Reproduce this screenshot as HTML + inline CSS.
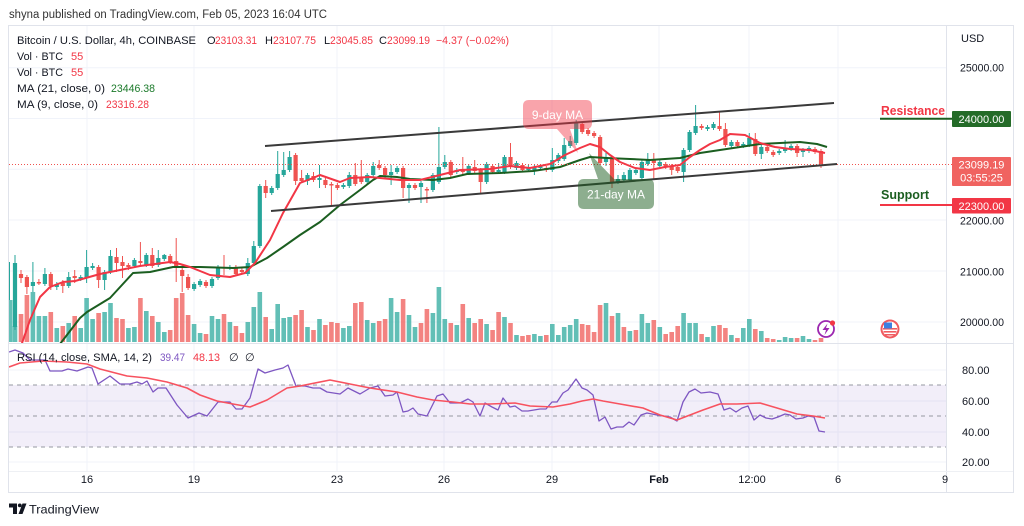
<!DOCTYPE html>
<html><head><meta charset="utf-8">
<style>
html,body{margin:0;padding:0;background:#fff;}
svg{display:block;font-family:"Liberation Sans",sans-serif;}
</style></head>
<body>
<svg width="1024" height="526" viewBox="0 0 1024 526" xmlns="http://www.w3.org/2000/svg">
<rect width="1024" height="526" fill="#fff"/>
<text x="9" y="18" font-size="11.5" fill="#333" textLength="318" lengthAdjust="spacingAndGlyphs">shyna published on TradingView.com, Feb 05, 2023 16:04 UTC</text>

<g stroke="#f0f3fa" stroke-width="1">
  <line x1="9" y1="67.7" x2="946" y2="67.7"/>
  <line x1="9" y1="118.5" x2="946" y2="118.5"/>
  <line x1="9" y1="169.3" x2="946" y2="169.3"/>
  <line x1="9" y1="220" x2="946" y2="220"/>
  <line x1="9" y1="271" x2="946" y2="271"/>
  <line x1="9" y1="322" x2="946" y2="322"/>
  <line x1="9" y1="370" x2="946" y2="370"/>
  <line x1="9" y1="401" x2="946" y2="401"/>
  <line x1="9" y1="432" x2="946" y2="432"/>
  <line x1="9" y1="462" x2="946" y2="462"/>
  <line x1="87" y1="26" x2="87" y2="471"/>
  <line x1="194" y1="26" x2="194" y2="471"/>
  <line x1="337" y1="26" x2="337" y2="471"/>
  <line x1="444" y1="26" x2="444" y2="471"/>
  <line x1="552" y1="26" x2="552" y2="471"/>
  <line x1="659" y1="26" x2="659" y2="471"/>
  <line x1="749" y1="26" x2="749" y2="471"/>
  <line x1="838" y1="26" x2="838" y2="471"/>
</g>

<rect x="9" y="385" width="937" height="62" fill="rgba(126,87,194,0.1)"/>
<g stroke="#9598a1" stroke-width="1" stroke-dasharray="4 4">
  <line x1="9" y1="385" x2="946" y2="385"/>
  <line x1="9" y1="416" x2="946" y2="416"/>
  <line x1="9" y1="447" x2="946" y2="447"/>
</g>

<rect x="8.5" y="25.5" width="1005" height="467" fill="none" stroke="#e0e3eb"/>
<line x1="946.5" y1="26" x2="946.5" y2="492" stroke="#e0e3eb"/>
<line x1="9" y1="343.5" x2="1013" y2="343.5" stroke="#e0e3eb"/>
<line x1="9" y1="471.5" x2="1013" y2="471.5" stroke="#eef0f4"/>

<defs>
  <clipPath id="mainclip"><rect x="9" y="26" width="937" height="317"/></clipPath>
  <clipPath id="rsiclip"><rect x="9" y="344" width="937" height="127"/></clipPath>
</defs>

<!-- volume -->
<g clip-path="url(#mainclip)">
<path fill="rgba(38,166,154,0.72)" d="M8.5 300h4v42h-4z M12.7 326h4.6V342h-4.6z M30.6 292h4.6V342h-4.6z M36.6 316h4.6V342h-4.6z M42.6 316h4.6V342h-4.6z M54.5 328h4.6V342h-4.6z M66.4 323h4.6V342h-4.6z M78.4 328h4.6V342h-4.6z M84.3 298h4.6V342h-4.6z M90.3 319h4.6V342h-4.6z M102.3 312h4.6V342h-4.6z M108.2 303h4.6V342h-4.6z M126.1 328h4.6V342h-4.6z M132.1 327h4.6V342h-4.6z M144 311h4.6V342h-4.6z M156 322h4.6V342h-4.6z M162 332h4.6V342h-4.6z M191.8 324h4.6V342h-4.6z M197.8 333h4.6V342h-4.6z M209.7 316h4.6V342h-4.6z M215.7 319h4.6V342h-4.6z M227.6 322h4.6V342h-4.6z M245.5 322h4.6V342h-4.6z M251.5 307h4.6V342h-4.6z M257.5 292h4.6V342h-4.6z M269.4 329h4.6V342h-4.6z M275.4 304h4.6V342h-4.6z M281.4 318h4.6V342h-4.6z M287.3 317h4.6V342h-4.6z M305.2 327h4.6V342h-4.6z M317.2 319h4.6V342h-4.6z M341.1 328h4.6V342h-4.6z M347 326h4.6V342h-4.6z M364.9 320h4.6V342h-4.6z M370.9 323h4.6V342h-4.6z M388.8 298h4.6V342h-4.6z M394.8 312h4.6V342h-4.6z M406.7 315h4.6V342h-4.6z M412.7 327h4.6V342h-4.6z M430.6 313h4.6V342h-4.6z M436.6 287h4.6V342h-4.6z M442.5 319h4.6V342h-4.6z M454.5 325h4.6V342h-4.6z M466.4 318h4.6V342h-4.6z M484.3 324h4.6V342h-4.6z M502.2 317h4.6V342h-4.6z M514.2 335h4.6V342h-4.6z M532.1 334h4.6V342h-4.6z M538.1 336h4.6V342h-4.6z M550 324h4.6V342h-4.6z M556 335h4.6V342h-4.6z M561.9 327h4.6V342h-4.6z M567.9 325h4.6V342h-4.6z M573.9 319h4.6V342h-4.6z M603.7 303h4.6V342h-4.6z M615.7 313h4.6V342h-4.6z M627.6 331h4.6V342h-4.6z M639.6 314h4.6V342h-4.6z M645.5 323h4.6V342h-4.6z M657.5 327h4.6V342h-4.6z M681.3 313h4.6V342h-4.6z M687.3 323h4.6V342h-4.6z M693.3 323h4.6V342h-4.6z M705.2 337h4.6V342h-4.6z M711.2 326h4.6V342h-4.6z M729.1 335h4.6V342h-4.6z M741 328h4.6V342h-4.6z M747 319h4.6V342h-4.6z M759 331h4.6V342h-4.6z M776.9 340h4.6V342h-4.6z M782.8 337h4.6V342h-4.6z M788.8 338h4.6V342h-4.6z M800.7 336h4.6V342h-4.6z M806.7 339h4.6V342h-4.6z"/>
<path fill="rgba(239,83,80,0.72)" d="M18.7 314h4.6V342h-4.6z M24.6 295h4.6V342h-4.6z M48.5 312h4.6V342h-4.6z M60.5 326h4.6V342h-4.6z M72.4 316h4.6V342h-4.6z M96.3 313h4.6V342h-4.6z M114.2 318h4.6V342h-4.6z M120.2 319h4.6V342h-4.6z M138.1 298h4.6V342h-4.6z M150 316h4.6V342h-4.6z M167.9 330h4.6V342h-4.6z M173.9 298h4.6V342h-4.6z M179.9 293h4.6V342h-4.6z M185.8 315h4.6V342h-4.6z M203.7 334h4.6V342h-4.6z M221.7 314h4.6V342h-4.6z M233.6 326h4.6V342h-4.6z M239.6 333h4.6V342h-4.6z M263.4 317h4.6V342h-4.6z M293.3 315h4.6V342h-4.6z M299.3 310h4.6V342h-4.6z M311.2 330h4.6V342h-4.6z M323.1 325h4.6V342h-4.6z M329.1 322h4.6V342h-4.6z M335.1 323h4.6V342h-4.6z M353 303h4.6V342h-4.6z M359 302h4.6V342h-4.6z M376.9 321h4.6V342h-4.6z M382.8 319h4.6V342h-4.6z M400.8 299h4.6V342h-4.6z M418.7 323h4.6V342h-4.6z M424.6 309h4.6V342h-4.6z M448.5 323h4.6V342h-4.6z M460.5 304h4.6V342h-4.6z M472.4 323h4.6V342h-4.6z M478.4 319h4.6V342h-4.6z M490.3 330h4.6V342h-4.6z M496.3 312h4.6V342h-4.6z M508.2 323h4.6V342h-4.6z M520.2 336h4.6V342h-4.6z M526.1 335h4.6V342h-4.6z M544 335h4.6V342h-4.6z M579.9 324h4.6V342h-4.6z M585.8 325h4.6V342h-4.6z M591.8 332h4.6V342h-4.6z M597.8 305h4.6V342h-4.6z M609.7 316h4.6V342h-4.6z M621.6 327h4.6V342h-4.6z M633.6 330h4.6V342h-4.6z M651.5 320h4.6V342h-4.6z M663.4 334h4.6V342h-4.6z M669.4 332h4.6V342h-4.6z M675.4 326h4.6V342h-4.6z M699.3 334h4.6V342h-4.6z M717.2 325h4.6V342h-4.6z M723.1 328h4.6V342h-4.6z M735.1 338h4.6V342h-4.6z M753 329h4.6V342h-4.6z M764.9 338h4.6V342h-4.6z M770.9 339h4.6V342h-4.6z M794.8 338h4.6V342h-4.6z M812.7 340h4.6V342h-4.6z M818.7 338h4.6V342h-4.6z"/>
</g>

<!-- candles -->
<g clip-path="url(#mainclip)">
<path fill="none" stroke="#26a69a" stroke-width="1" d="M9.5 262V300 M15 255V330 M32.9 262V292 M44.9 268V286 M56.8 282V290 M68.7 272V288 M80.7 275V281 M86.6 250V283 M92.6 263V270 M104.6 270V290 M110.5 250V274 M134.4 258V268 M146.3 253V267 M158.3 250V267 M164.3 254V261 M194.1 282V291 M200.1 279V287 M212 277V288 M218 265V280 M229.9 265V270 M247.8 258V276 M253.8 241V265 M259.8 184V248 M271.7 186V195 M277.7 151V190 M283.7 152V177 M289.6 151V172 M307.5 173V185 M319.5 165V188 M343.4 183V189 M349.3 172V188 M367.2 173V184 M373.2 162V177 M391.1 165V185 M397.1 166V174 M409 183V203 M421 181V203 M432.9 173V192 M438.9 127V184 M444.8 155V169 M456.8 168V174 M468.7 164V175 M486.6 162V184 M498.6 163V174 M504.5 155V174 M516.5 161V170 M528.4 165V172 M534.4 165V175 M540.4 164V170 M552.3 148V172 M558.3 153V163 M564.2 138V161 M570.2 136V148 M576.2 120V145 M606 153V166 M618 175V184 M623.9 172V182 M629.9 168V182 M635.9 168V175 M641.9 160V180 M647.8 153V166 M659.8 160V168 M683.6 148V182 M689.6 130V152 M695.6 105V135 M707.5 125V131 M713.5 122V130 M731.4 140V148 M743.3 142V148 M749.3 133V147 M761.3 145V159 M779.2 149V155 M785.1 140V153 M791.1 144V151 M803 148V157 M809 146V153"/>
<path fill="#26a69a" d="M12.9 263h4.2v64h-4.2z M30.8 282h4.2v4h-4.2z M42.8 274h4.2v10h-4.2z M54.7 284h4.2v3h-4.2z M66.6 277h4.2v9h-4.2z M78.6 277h4.2v2h-4.2z M84.5 267h4.2v11h-4.2z M90.5 266h4.2v2h-4.2z M102.5 272h4.2v8h-4.2z M108.4 256h4.2v16h-4.2z M132.3 260h4.2v6h-4.2z M144.2 255h4.2v10h-4.2z M156.2 258h4.2v7h-4.2z M162.2 255h4.2v4h-4.2z M192 284h4.2v5h-4.2z M198 281h4.2v4h-4.2z M209.9 279h4.2v7h-4.2z M215.9 267h4.2v11h-4.2z M227.8 267h4.2v1.5h-4.2z M245.7 263h4.2v11h-4.2z M251.7 246h4.2v17h-4.2z M257.7 186h4.2v60h-4.2z M269.6 188h4.2v5h-4.2z M275.6 174h4.2v14h-4.2z M281.6 170h4.2v5h-4.2z M287.5 157h4.2v13h-4.2z M305.4 175h4.2v6h-4.2z M317.4 178h4.2v2h-4.2z M341.3 185h4.2v2h-4.2z M347.2 175h4.2v11h-4.2z M365.1 175h4.2v7h-4.2z M371.1 166h4.2v9h-4.2z M389 172h4.2v3h-4.2z M395 168h4.2v4h-4.2z M406.9 185h4.2v3h-4.2z M418.9 183h4.2v4h-4.2z M430.8 175h4.2v15h-4.2z M436.8 167h4.2v15h-4.2z M442.7 162h4.2v5h-4.2z M454.7 170h4.2v2h-4.2z M466.6 166h4.2v7h-4.2z M484.5 164h4.2v18h-4.2z M496.5 170h4.2v2h-4.2z M502.4 157h4.2v15h-4.2z M514.4 163h4.2v5h-4.2z M526.3 167h4.2v3h-4.2z M532.3 167h4.2v3h-4.2z M538.3 166h4.2v2h-4.2z M550.2 160h4.2v10h-4.2z M556.2 155h4.2v6h-4.2z M562.1 145h4.2v14h-4.2z M568.1 141h4.2v5h-4.2z M574.1 123h4.2v20h-4.2z M603.9 157h4.2v5h-4.2z M615.9 179h4.2v3h-4.2z M621.8 175h4.2v5h-4.2z M627.8 170h4.2v10h-4.2z M633.8 170h4.2v3h-4.2z M639.8 162h4.2v16h-4.2z M645.7 160h4.2v4h-4.2z M657.7 162h4.2v4h-4.2z M681.5 150h4.2v22h-4.2z M687.5 132h4.2v18h-4.2z M693.5 126h4.2v7h-4.2z M705.4 127h4.2v2h-4.2z M711.4 124h4.2v4h-4.2z M729.3 142h4.2v4h-4.2z M741.2 144h4.2v2h-4.2z M747.2 138h4.2v7h-4.2z M759.2 147h4.2v7h-4.2z M777.1 151h4.2v2h-4.2z M783 148h4.2v3h-4.2z M789 146h4.2v3h-4.2z M800.9 150h4.2v2h-4.2z M806.9 148h4.2v3h-4.2z"/>
<path fill="none" stroke="#ef5350" stroke-width="1" d="M21 270V283 M26.9 275V294 M38.9 279V285 M50.8 272V290 M62.8 280V293 M74.7 270V283 M98.6 265V288 M116.5 248V272 M122.5 256V278 M128.4 263V270 M140.4 242V265 M152.3 248V268 M170.2 254V264 M176.2 238V282 M182.2 265V292 M188.1 274V290 M206 280V288 M224 255V275 M235.9 265V276 M241.9 268V274 M265.7 180V198 M295.6 153V185 M301.6 170V183 M313.5 172V182 M325.4 178V188 M331.4 182V205 M337.4 183V190 M355.3 163V186 M361.3 160V184 M379.2 160V170 M385.1 166V178 M403.1 166V198 M415 183V190 M426.9 187V203 M450.8 160V177 M462.8 157V174 M474.7 160V173 M480.7 168V193 M492.6 164V174 M510.5 143V169 M522.5 163V172 M546.3 166V172 M582.2 122V134 M588.1 128V136 M594.1 131V138 M600.1 135V165 M612 157V188 M653.8 153V180 M665.7 162V169 M671.7 164V175 M677.7 165V173 M701.6 124V130 M719.5 111V131 M725.4 123V147 M737.4 140V148 M755.3 133V156 M767.2 145V153 M773.2 150V157 M797.1 144V157 M815 147V154 M821 149V168"/>
<path fill="#ef5350" d="M18.9 274h4.2v4h-4.2z M24.8 277h4.2v10h-4.2z M36.8 282h4.2v1.5h-4.2z M48.7 274h4.2v12h-4.2z M60.7 283h4.2v3h-4.2z M72.6 276h4.2v2h-4.2z M96.5 267h4.2v13h-4.2z M114.4 257h4.2v6h-4.2z M120.4 262h4.2v4h-4.2z M126.3 265h4.2v2h-4.2z M138.3 261h4.2v2h-4.2z M150.2 255h4.2v11h-4.2z M168.1 256h4.2v6h-4.2z M174.1 261h4.2v7h-4.2z M180.1 270h4.2v6h-4.2z M186 277h4.2v11h-4.2z M203.9 282h4.2v4h-4.2z M221.9 267h4.2v1.5h-4.2z M233.8 267h4.2v7h-4.2z M239.8 270h4.2v2h-4.2z M263.6 186h4.2v7h-4.2z M293.5 155h4.2v26h-4.2z M299.5 178h4.2v3h-4.2z M311.4 176h4.2v4h-4.2z M323.3 180h4.2v5h-4.2z M329.3 184h4.2v1.5h-4.2z M335.3 185h4.2v3h-4.2z M353.2 175h4.2v9h-4.2z M359.2 178h4.2v4h-4.2z M377.1 165h4.2v3h-4.2z M383 168h4.2v7h-4.2z M401 168h4.2v20h-4.2z M412.9 185h4.2v3h-4.2z M424.8 189h4.2v1.5h-4.2z M448.7 162h4.2v13h-4.2z M460.7 170h4.2v2h-4.2z M472.6 167h4.2v4h-4.2z M478.6 170h4.2v12h-4.2z M490.5 166h4.2v6h-4.2z M508.4 157h4.2v10h-4.2z M520.4 165h4.2v5h-4.2z M544.2 168h4.2v2h-4.2z M580.1 124h4.2v8h-4.2z M586 130h4.2v4h-4.2z M592 133h4.2v3h-4.2z M598 137h4.2v26h-4.2z M609.9 159h4.2v23h-4.2z M651.7 160h4.2v3h-4.2z M663.6 164h4.2v3h-4.2z M669.6 166h4.2v4h-4.2z M675.6 167h4.2v4h-4.2z M699.5 126h4.2v2h-4.2z M717.4 126h4.2v3h-4.2z M723.3 129h4.2v16h-4.2z M735.3 142h4.2v4h-4.2z M753.2 139h4.2v15h-4.2z M765.1 147h4.2v4h-4.2z M771.1 152h4.2v3h-4.2z M795 146h4.2v7h-4.2z M812.9 149h4.2v3h-4.2z M818.9 151h4.2v13h-4.2z"/>
</g>

<g clip-path="url(#mainclip)" fill="none" stroke-width="2" stroke-linejoin="round">
  <polyline stroke="#1b5e20" points="60,344 80,318 87,312 110,298 133,273 150,272 173,267 200,267 233,268 250,267 267,258 283,247 300,235 320,222 340,205 360,190 373,180 380,176 397,177 410,179 433,180 450,178 467,174 500,173 533,171 560,167 580,160 590,157 607,158 630,159 650,160 680,158 700,153 720,150 740,147 760,144 780,143 800,142 817,144 827,147"/>
  <polyline stroke="#f23645" points="21,346 30,320 40,297 50,287 63,282 75,281 100,274 120,270 140,266 170,262 180,264 190,267 210,275 230,277 245,273 255,263 270,240 283,213 300,183 313,178 320,175 340,182 350,178 370,177 380,178 400,180 420,180 440,175 460,170 490,169 510,166 530,168 550,164 565,155 580,148 590,144 600,147 610,155 620,162 635,168 650,170 665,167 680,165 690,157 700,150 710,144 720,140 730,134 745,135 760,143 775,147 790,149 810,150 825,153"/>
</g>

<line x1="9" y1="164.5" x2="952" y2="164.5" stroke="#ef5350" stroke-width="1" stroke-dasharray="1 2"/>

<g stroke="#3a3a3a" stroke-width="2">
  <line x1="265" y1="146" x2="834" y2="103"/>
  <line x1="271" y1="211" x2="837" y2="164"/>
</g>

<path d="M529,100 H586 Q592,100 592,106 V123 Q592,129 586,129 H570 L578,153 L557,129 H529 Q523,129 523,123 V106 Q523,100 529,100 Z" fill="rgba(242,54,69,0.45)"/>
<text x="557.5" y="119" font-size="12" fill="#fff" text-anchor="middle">9-day MA</text>
<path d="M584,179 H598 L589,153 L614,179 H648 Q654,179 654,185 V203 Q654,209 648,209 H584 Q578,209 578,203 V185 Q578,179 584,179 Z" fill="rgba(27,94,32,0.5)"/>
<text x="616" y="198.5" font-size="12" fill="#fff" text-anchor="middle">21-day MA</text>

<g clip-path="url(#rsiclip)" fill="none" stroke-linejoin="round">
  <polyline stroke="#7e57c2" stroke-width="1.3" points="9,352 15,350 23,353 30,360 40,360 45,360 50,371 62,371 68,369 77,371 88,367 92,368 98,384 110,376 120,384 130,384 137,382 142,384 147,381 153,392 158,388 166,388 177,405 188,418 199,413 207,416 218,402 230,402 236,409 242,409 250,398 258,369 265,373 275,370 283,368 288,365 296,386 305,386 313,388 320,388 327,392 340,394 348,388 360,394 370,388 378,386 385,396 393,395 397,392 403,412 408,411 413,408 418,414 427,416 437,396 443,394 450,403 460,403 468,399 473,402 480,416 485,403 492,407 498,410 503,398 510,407 515,406 522,411 528,411 540,409 546,409 552,402 557,402 563,393 568,390 576,379 582,388 587,390 593,395 599,421 605,417 611,429 617,427 623,427 629,422 634,425 641,415 647,413 657,415 670,417 677,421 683,402 689,392 695,389 701,393 710,392 718,394 724,410 730,408 736,412 742,408 748,406 754,420 760,415 766,418 772,419 778,417 785,414 790,415 796,419 803,418 808,416 814,417 819,431 825,432"/>
  <polyline stroke="#f7525f" stroke-width="1.6" points="9,367 20,363 43,361 67,362 87,364 100,369 127,376 147,378 167,382 187,388 200,395 217,401 233,404 250,407 267,400 287,388 300,386 330,380 350,384 370,388 397,392 417,397 433,400 453,402 470,404 490,404 515,403 530,406 553,407 570,404 582,401 593,399 603,401 620,404 643,408 660,415 677,420 690,415 703,410 720,404 737,404 760,403 777,408 797,414 813,416 825,418"/>
</g>

<g font-size="11" fill="#131722">
  <text x="17" y="44" textLength="179" lengthAdjust="spacingAndGlyphs">Bitcoin / U.S. Dollar, 4h, COINBASE</text>
  <text x="207" y="44">O</text>
  <text x="215" y="44" fill="#f23645" textLength="42" lengthAdjust="spacingAndGlyphs">23103.31</text>
  <text x="265" y="44">H</text>
  <text x="273" y="44" fill="#f23645" textLength="43" lengthAdjust="spacingAndGlyphs">23107.75</text>
  <text x="324" y="44">L</text>
  <text x="330" y="44" fill="#f23645" textLength="43" lengthAdjust="spacingAndGlyphs">23045.85</text>
  <text x="379" y="44">C</text>
  <text x="387" y="44" fill="#f23645" textLength="43" lengthAdjust="spacingAndGlyphs">23099.19</text>
  <text x="436" y="44" fill="#f23645" textLength="73" lengthAdjust="spacingAndGlyphs">−4.37 (−0.02%)</text>
  <text x="17" y="60" textLength="46" lengthAdjust="spacingAndGlyphs">Vol · BTC</text>
  <text x="71" y="60" fill="#f23645">55</text>
  <text x="17" y="76" textLength="46" lengthAdjust="spacingAndGlyphs">Vol · BTC</text>
  <text x="71" y="76" fill="#f23645">55</text>
  <text x="17" y="92" textLength="88" lengthAdjust="spacingAndGlyphs">MA (21, close, 0)</text>
  <text x="111" y="92" fill="#1b7a2a" textLength="44" lengthAdjust="spacingAndGlyphs">23446.38</text>
  <text x="17" y="108" textLength="81" lengthAdjust="spacingAndGlyphs">MA (9, close, 0)</text>
  <text x="106" y="108" fill="#f23645" textLength="43" lengthAdjust="spacingAndGlyphs">23316.28</text>
  <text x="17" y="361" textLength="135" lengthAdjust="spacingAndGlyphs">RSI (14, close, SMA, 14, 2)</text>
  <text x="160" y="361" fill="#7e57c2" textLength="25" lengthAdjust="spacingAndGlyphs">39.47</text>
  <text x="193" y="361" fill="#f23645" textLength="27" lengthAdjust="spacingAndGlyphs">48.13</text>
  <text x="229" y="361">∅</text>
  <text x="245" y="361">∅</text>
</g>

<g font-size="11" fill="#131722">
  <text x="961" y="42">USD</text>
  <text x="960" y="71.7" textLength="44" lengthAdjust="spacingAndGlyphs">25000.00</text>
  <text x="960" y="224.5" textLength="44" lengthAdjust="spacingAndGlyphs">22000.00</text>
  <text x="960" y="275.5" textLength="44" lengthAdjust="spacingAndGlyphs">21000.00</text>
  <text x="960" y="326" textLength="44" lengthAdjust="spacingAndGlyphs">20000.00</text>
  <text x="962" y="374">80.00</text>
  <text x="962" y="405">60.00</text>
  <text x="962" y="436">40.00</text>
  <text x="962" y="466">20.00</text>
</g>

<line x1="880" y1="118.7" x2="952" y2="118.7" stroke="#1b5e20" stroke-width="2"/>
<text x="881" y="115" font-size="13" font-weight="bold" fill="#f23645" textLength="64" lengthAdjust="spacingAndGlyphs">Resistance</text>
<line x1="880" y1="205" x2="952" y2="205" stroke="#f23645" stroke-width="2"/>
<text x="881" y="199" font-size="13" font-weight="bold" fill="#1b5e20" textLength="48" lengthAdjust="spacingAndGlyphs">Support</text>

<rect x="952" y="111" width="59" height="16" rx="1" fill="#246b28"/>
<text x="981.5" y="123" font-size="11" fill="#fff" text-anchor="middle">24000.00</text>
<rect x="952" y="157" width="59" height="29" rx="1" fill="#f06360"/>
<text x="981.5" y="168.5" font-size="11" fill="#fff" text-anchor="middle">23099.19</text>
<text x="981.5" y="181.5" font-size="11" fill="#fff" text-anchor="middle">03:55:25</text>
<rect x="952" y="198" width="59" height="15.5" rx="1" fill="#f23645"/>
<text x="981.5" y="210" font-size="11" fill="#fff" text-anchor="middle">22300.00</text>

<circle cx="826" cy="329" r="8" fill="#fff" stroke="#9c27b0" stroke-width="1.8"/>
<path d="M827.5,323.5 L822.5,330 L826,330 L824.5,335 L829.5,328 L826,328 Z" fill="#9c27b0"/>
<circle cx="832.5" cy="323" r="2.6" fill="#f23645"/>
<circle cx="890" cy="329" r="9.5" fill="#f05a5f"/>
<circle cx="890" cy="329" r="7.5" fill="#fff"/>
<g fill="#f05a5f">
  <rect x="883" y="328" width="14" height="1.6"/>
  <rect x="883.5" y="331" width="13" height="1.6"/>
  <rect x="885" y="334" width="10" height="1.5"/>
</g>
<rect x="884" y="322.5" width="8" height="6" fill="#3d7fe0"/>

<g font-size="11" fill="#131722" text-anchor="middle">
  <text x="87" y="483">16</text>
  <text x="194" y="483">19</text>
  <text x="337" y="483">23</text>
  <text x="444" y="483">26</text>
  <text x="552" y="483">29</text>
  <text x="659" y="483" font-weight="bold">Feb</text>
  <text x="752" y="483">12:00</text>
  <text x="838" y="483">6</text>
  <text x="945" y="483">9</text>
</g>

<path d="M9,503.5 H17 V514 H13 V507.5 H9 Z" fill="#131722"/>
<circle cx="19.8" cy="505.4" r="1.9" fill="#131722"/>
<path d="M22.5,503.5 H26.5 L22.5,514 H18.5 Z" fill="#131722"/>
<text x="29" y="513.5" font-size="12" fill="#131722" textLength="70" lengthAdjust="spacingAndGlyphs">TradingView</text>
</svg>
</body></html>
